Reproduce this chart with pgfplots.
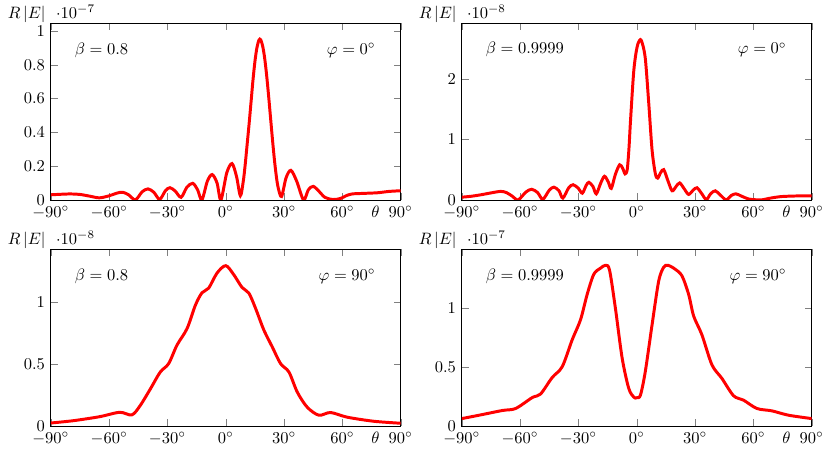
\documentclass[border=0pt]{standalone}
\usepackage{pgfplots}
\pgfplotsset{compat=1.18}
\usepgfplotslibrary{groupplots}

% values in units of the scale factor shown above each axis
\pgfplotstableread{
t r
-90 0.030
-85 0.033
-80 0.035
-75 0.032
-70 0.022
-65 0.012
-60 0.024
-56 0.040
-53 0.045
-50 0.030
-46.5 0.0
-43 0.048
-40 0.065
-37 0.045
-34 0.003
-31 0.055
-28.7 0.072
-26 0.052
-23 0.015
-20 0.075
-17 0.098
-14.5 0.06
-12.3 0.0
-9.5 0.11
-7.0 0.150
-4.5 0.10
-2.5 0.0
0.5 0.16
3.2 0.215
5.5 0.14
7.5 0.025
9 0.11
10 0.21
11 0.33
12 0.45
13 0.58
14 0.71
15 0.82
16 0.90
17 0.945
17.5 0.952
18 0.948
19 0.91
20 0.84
21 0.74
22 0.62
23 0.49
24 0.36
25 0.24
26 0.14
27 0.07
28.7 0.02
31 0.13
33.5 0.175
36.5 0.11
40 0.0
42.5 0.06
45 0.08
48 0.05
51 0.015
55 0.002
59 0.008
62 0.025
65 0.035
70 0.038
78 0.042
84 0.05
90 0.054
}\datatl

\pgfplotstableread{
t r
-90 0.044
-85 0.06
-80 0.085
-75 0.115
-70 0.14
-67 0.12
-64 0.06
-61 0.0
-57 0.13
-54 0.175
-51 0.12
-48.3 0.01
-45 0.16
-42.6 0.21
-40 0.15
-38 0.03
-35 0.20
-32.7 0.25
-30 0.19
-28 0.11
-26 0.24
-24.6 0.29
-22.5 0.22
-20.8 0.10
-18.5 0.28
-16.6 0.39
-14.7 0.30
-13.1 0.19
-11 0.42
-8.8 0.58
-7.2 0.52
-6.0 0.43
-4.9 0.50
-4.0 0.85
-3.2 1.31
-1.5 2.14
0.2 2.53
1.9 2.65
3.2 2.55
4.5 2.31
6.2 1.59
7.9 0.82
9.6 0.43
10.8 0.36
12.3 0.45
13.9 0.50
16 0.32
18.2 0.15
20.2 0.22
22.1 0.28
24.5 0.18
26.7 0.09
29 0.16
31 0.20
33.5 0.10
35.8 0.005
38 0.10
40.4 0.15
43 0.08
46 0.0
48.5 0.07
51 0.10
54 0.06
57.5 0.015
61 0.002
64.3 0.0
69 0.03
74.6 0.055
83 0.065
90 0.065
}\datatr

\pgfplotstableread{
t r
-90 0.024
-78.3 0.043
-64.6 0.076
-54.6 0.111
-48.3 0.09
-44 0.166
-38.8 0.30
-33.7 0.437
-29.4 0.505
-25.1 0.655
-19.9 0.79
-15.6 0.98
-12.2 1.08
-8.8 1.117
-4.5 1.239
0 1.299
4.1 1.226
8.4 1.122
11.9 1.076
15.3 0.954
19.6 0.777
23.9 0.641
28.2 0.505
32.5 0.437
36.8 0.274
41.9 0.152
47.9 0.087
53.9 0.109
62.5 0.071
76.2 0.038
90 0.022
}\databl

\pgfplotstableread{
t r
-90 0.0625
-81.1 0.091
-69.1 0.131
-62.3 0.148
-53.7 0.241
-49.5 0.27
-43.5 0.41
-38.3 0.503
-33.2 0.73
-28.9 0.90
-25.5 1.114
-22.1 1.284
-18.7 1.335
-16.1 1.36
-14 1.32
-11 1.0
-7.5 0.574
-4.1 0.318
-1.5 0.244
0 0.239
1.9 0.261
4.4 0.46
7.9 0.858
11.3 1.227
13.9 1.345
16.1 1.36
19.8 1.327
23.3 1.27
26.7 1.114
29.3 0.93
33.5 0.773
38.7 0.517
43.8 0.403
49.8 0.256
54.9 0.219
61.8 0.148
69.5 0.128
78.1 0.091
90 0.0625
}\databr

\pgfplotsset{
  farfield/.style={
    width=212pt, height=107pt, scale only axis,
    xmin=-90, xmax=90, ymin=0,
    clip mode=individual,
    xtick={-90,-60,...,90},
    xticklabel={$\pgfmathprintnumber{\tick}^{\circ}$},
    xlabel={$\theta$},
    xlabel style={at={(axis description cs:0.928,0)}, anchor=north, inner sep=0.333em},
    ylabel={$R\left|E\right|$},
    ylabel style={rotate=-90, at={(axis description cs:0,1)}, anchor=base east,
                  inner sep=0pt, xshift=-3pt, yshift=3pt},
    scaled y ticks=false,
  },
  curve/.style={red, line width=1.8pt, smooth, mark=none},
}
\tikzset{
  scalelab/.style={anchor=base west, inner sep=0pt, xshift=3pt, yshift=3pt},
  note/.style={inner sep=0pt},
}

\begin{document}
\begin{tikzpicture}
\begin{groupplot}[group style={group size=2 by 2, horizontal sep=37pt, vertical sep=30pt}, farfield]
  \nextgroupplot[ymax=1.046, ytick={0,0.2,0.4,0.6,0.8,1}]
    \addplot[curve] table[x=t, y=r] {\datatl};
    \node[scalelab] at (rel axis cs:0,1) {$\cdot 10^{-7}$};
    \node[note, anchor=base west] at (rel axis cs:0.068,0.826) {$\beta = 0.8$};
    \node[note, anchor=base east] at (rel axis cs:0.929,0.826) {$\varphi = 0^{\circ}$};
  \nextgroupplot[ymax=2.92, ytick={0,1,2}]
    \addplot[curve] table[x=t, y=r] {\datatr};
    \node[scalelab] at (rel axis cs:0,1) {$\cdot 10^{-8}$};
    \node[note, anchor=base west] at (rel axis cs:0.068,0.826) {$\beta = 0.9999$};
    \node[note, anchor=base east] at (rel axis cs:0.929,0.826) {$\varphi = 0^{\circ}$};
  \nextgroupplot[ymax=1.431, ytick={0,0.5,1}]
    \addplot[curve] table[x=t, y=r] {\databl};
    \node[scalelab] at (rel axis cs:0,1) {$\cdot 10^{-8}$};
    \node[note, anchor=base west] at (rel axis cs:0.068,0.826) {$\beta = 0.8$};
    \node[note, anchor=base east] at (rel axis cs:0.929,0.826) {$\varphi = 90^{\circ}$};
  \nextgroupplot[ymax=1.495, ytick={0,0.5,1}]
    \addplot[curve] table[x=t, y=r] {\databr};
    \node[scalelab] at (rel axis cs:0,1) {$\cdot 10^{-7}$};
    \node[note, anchor=base west] at (rel axis cs:0.068,0.826) {$\beta = 0.9999$};
    \node[note, anchor=base east] at (rel axis cs:0.929,0.826) {$\varphi = 90^{\circ}$};
\end{groupplot}
% keep the same margins round the plots as the reference
\path ([xshift=-30.8pt,yshift=14.1pt]group c1r1.north west)
  rectangle ([xshift=11.1pt,yshift=-15.3pt]group c2r2.south east);
\end{tikzpicture}
\end{document}
